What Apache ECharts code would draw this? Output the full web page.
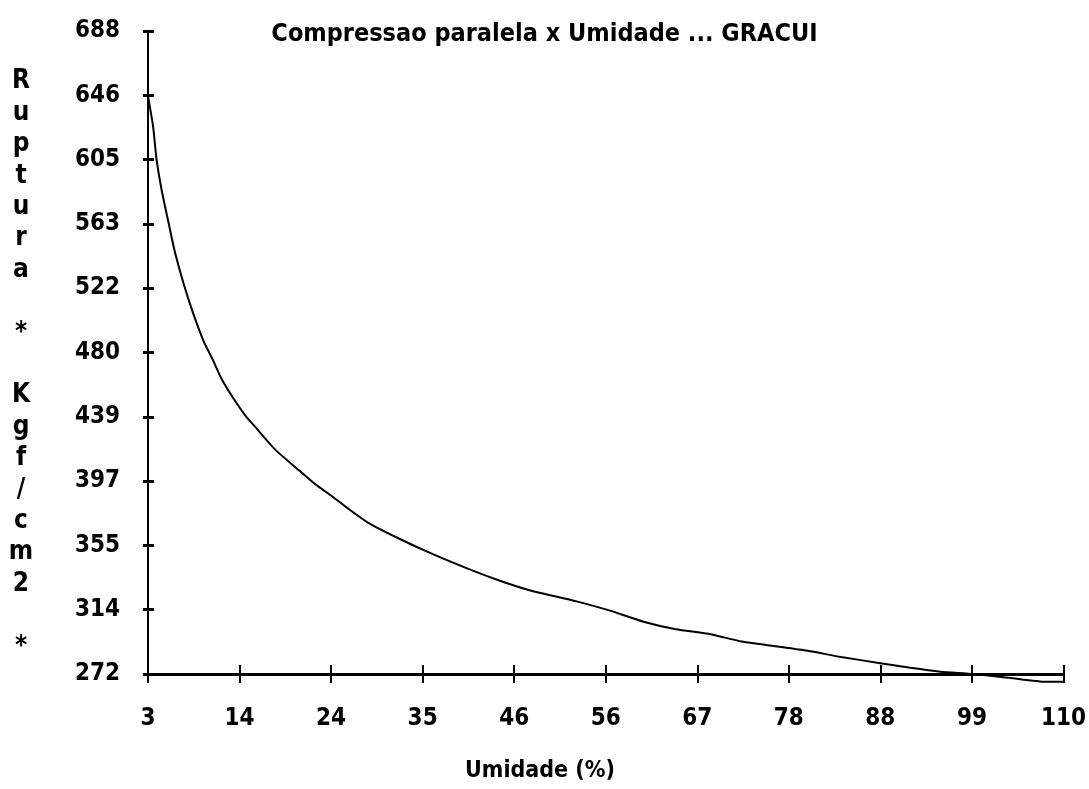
<!DOCTYPE html>
<html>
<head>
<meta charset="utf-8">
<script src="https://cdn.jsdelivr.net/npm/echarts@6/dist/echarts.min.js"></script>
<style>
  html, body { margin: 0; padding: 0; background: #ffffff; }
  #chart { width: 1089px; height: 789px; }
</style>
</head>
<body>
<div id="chart"></div>
<script>
// ---- Data ----
var titleText = 'Compressao paralela x Umidade ... GRACUI';
var xName = 'Umidade (%)';
var yNameChars = ['R','u','p','t','u','r','a',' ','*',' ','K','g','f','/','c','m','2',' ','*'];

// moisture (%) of each curve point
var umidade = [3, 3.6, 4.0, 4.6, 5.4, 6.1, 7.3, 8.3, 9.6, 10.6, 11.5, 12.9, 14.4, 15.2, 17.9,
  20.6, 22.5, 24.5, 26.4, 28.7, 32.2, 36.1, 40.0, 43.8, 47.7, 50.8, 53.1, 57.0, 60.8,
  64.7, 68.5, 72.4, 76.3, 80.1, 84.0, 88.6, 92.1, 95.6, 99.5, 103.7, 108, 110];
// rupture stress (kgf/cm2) of each curve point
var ruptura = [646, 626, 605, 585, 564, 546, 522, 505, 486, 475, 464, 451, 439, 434, 417,
  404, 395, 387, 379, 370, 360, 350, 341, 333, 326, 322, 319, 313, 306,
  301, 298, 293, 290, 287, 283, 279, 276, 273.5, 272, 269.5, 267, 267];

// axis ticks (values) and their printed labels
var xTicks = [3, 13.7, 24.4, 35.1, 45.8, 56.5, 67.2, 77.9, 88.6, 99.3, 110];
var xTickLabels = ['3', '14', '24', '35', '46', '56', '67', '78', '88', '99', '110'];
var yTicks = [272, 313.6, 355.2, 396.8, 438.4, 480, 521.6, 563.2, 604.8, 646.4, 688];
var yTickLabels = ['272', '314', '355', '397', '439', '480', '522', '563', '605', '646', '688'];

// ---- Chart ----
var FONT = "'Liberation Sans Narrow', 'DejaVu Sans Condensed', 'Liberation Sans', sans-serif";

function lookup(ticks, labels) {
  return function (v) {
    for (var i = 0; i < ticks.length; i++) {
      if (Math.abs(ticks[i] - v) < 1e-6) return labels[i];
    }
    return '';
  };
}

var points = umidade.map(function (x, i) { return [x, ruptura[i]]; });

var chart = echarts.init(document.getElementById('chart'), null, { renderer: 'canvas' });

var baseX = {
  type: 'value', min: 3, max: 110, gridIndex: 0, position: 'bottom',
  splitLine: { show: false }
};
var baseY = {
  type: 'value', min: 272, max: 688, gridIndex: 0, position: 'left',
  splitLine: { show: false }
};

chart.setOption({
  backgroundColor: '#ffffff',
  animation: false,
  title: {
    text: titleText,
    left: 'center',
    top: 17,
    textStyle: { fontFamily: FONT, fontWeight: 'bold', fontSize: 25, color: '#000' }
  },
  grid: { left: 148, right: 18, top: 31, bottom: 115, containLabel: false },
  xAxis: [
    Object.assign({}, baseX, {
      axisLine: { show: true, lineStyle: { color: '#000', width: 3 } },
      axisTick: { show: true, inside: false, length: 9, customValues: xTicks,
                  lineStyle: { color: '#000', width: 2 } },
      axisLabel: { show: true, customValues: xTicks, margin: 33,
                   formatter: lookup(xTicks, xTickLabels),
                   fontFamily: FONT, fontWeight: 'bold', fontSize: 24, color: '#000' }
    }),
    Object.assign({}, baseX, {
      axisLine: { show: false },
      axisTick: { show: true, inside: true, length: 9, customValues: xTicks,
                  lineStyle: { color: '#000', width: 2 } },
      axisLabel: { show: false }
    })
  ],
  yAxis: [
    Object.assign({}, baseY, {
      axisLine: { show: true, lineStyle: { color: '#000', width: 2 } },
      axisTick: { show: true, inside: false, length: 5, customValues: yTicks,
                  lineStyle: { color: '#000', width: 3 } },
      axisLabel: { show: true, customValues: yTicks, margin: 28,
                   formatter: lookup(yTicks, yTickLabels),
                   fontFamily: FONT, fontWeight: 'bold', fontSize: 24, color: '#000' }
    }),
    Object.assign({}, baseY, {
      axisLine: { show: false },
      axisTick: { show: true, inside: true, length: 6, customValues: yTicks,
                  lineStyle: { color: '#000', width: 3 } },
      axisLabel: { show: false }
    })
  ],
  graphic: [
    {
      type: 'text', x: 21, y: 66,
      style: {
        text: yNameChars.join('\n'),
        fontFamily: FONT, fontWeight: 'bold', fontSize: 26, lineHeight: 31.4,
        fill: '#000', align: 'center', verticalAlign: 'top'
      }
    },
    {
      type: 'text', x: 540, y: 771,
      style: {
        text: xName,
        fontFamily: FONT, fontWeight: 'bold', fontSize: 23,
        fill: '#000', align: 'center', verticalAlign: 'middle'
      }
    }
  ],
  series: [{
    type: 'line',
    xAxisIndex: 0, yAxisIndex: 0,
    data: points,
    showSymbol: false,
    smooth: 0.2,
    clip: false,
    lineStyle: { color: '#000', width: 2 }
  }]
});
</script>
</body>
</html>
